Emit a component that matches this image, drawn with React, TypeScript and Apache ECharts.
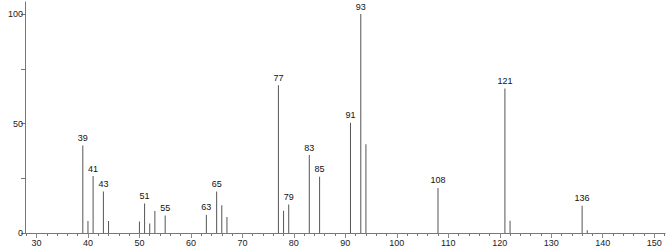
import React, { useEffect, useRef } from "react";
import * as echarts from "echarts";

const mz = [39, 40, 41, 43, 44, 50, 51, 52, 53, 55, 63, 65, 66, 67, 77, 78, 79, 83, 85, 91, 93, 94, 108, 121, 122, 136, 137];
const intensity = [40, 5.5, 26, 19, 5.5, 5.3, 13.5, 4.3, 10, 8, 8.3, 19, 12.7, 7.3, 67.5, 10.2, 13, 35.6, 25.7, 50.4, 100, 40.5, 20.6, 66, 5.6, 12.5, 1.2];
const labeledPeaks = [39, 41, 43, 51, 55, 63, 65, 77, 79, 83, 85, 91, 93, 108, 121, 136];
const xMajorTicks = [30, 40, 50, 60, 70, 80, 90, 100, 110, 120, 130, 140, 150];
const xMinorTicks = [28, 30, 32, 34, 36, 38, 40, 42, 44, 46, 48, 50, 52, 54, 56, 58, 60, 62, 64, 66, 68, 70, 72, 74, 76, 78, 80, 82, 84, 86, 88, 90, 92, 94, 96, 98, 100, 102, 104, 106, 108, 110, 112, 114, 116, 118, 120, 122, 124, 126, 128, 130, 132, 134, 136, 138, 140, 142, 144, 146, 148, 150, 152];
const yTicks = [0, 25, 50, 75, 100];
const yLabels = [0, 50, 100];

const FONT = "'Liberation Sans', Arial, sans-serif";

export default function App() {
  const ref = useRef<HTMLDivElement>(null);
  useEffect(() => {
    if (!ref.current) return;
    const chart = echarts.init(ref.current, null, { renderer: "svg" });
    const data = mz.map((m, i) => ({
      value: [m, intensity[i]],
      label: { show: labeledPeaks.includes(m) },
    }));
    chart.setOption({
      animation: false,
      grid: { left: 25, right: 2, top: 2, bottom: 16 },
      xAxis: [
        {
          type: "value",
          min: 27.77,
          max: 152.1,
          position: "bottom",
          axisLine: { show: true, onZero: false, lineStyle: { color: "#777", width: 1 } },
          axisTick: { show: true, inside: false, length: 3, customValues: xMinorTicks, lineStyle: { color: "#777" } },
          axisLabel: { show: false },
          splitLine: { show: false },
        },
        {
          type: "value",
          min: 27.77,
          max: 152.1,
          position: "bottom",
          offset: 0,
          axisLine: { show: false },
          axisTick: { show: true, inside: false, length: 5, customValues: xMajorTicks, lineStyle: { color: "#888" } },
          axisLabel: {
            show: true,
            customValues: xMajorTicks,
            fontSize: 9,
            fontFamily: FONT,
            color: "#222",
            margin: 5,
          },
          splitLine: { show: false },
        },
      ],
      yAxis: {
        type: "value",
        min: 0,
        max: 105.5,
        axisLine: { show: true, lineStyle: { color: "#777", width: 1 } },
        axisTick: { show: true, length: 4, customValues: yTicks, lineStyle: { color: "#777" } },
        axisLabel: {
          show: true,
          customValues: yLabels,
          fontSize: 9,
          fontFamily: FONT,
          color: "#222",
          margin: 2,
        },
        splitLine: { show: false },
      },
      series: [
        {
          type: "bar",
          xAxisIndex: 0,
          barWidth: 1,
          data,
          itemStyle: { color: "#555" },
          label: {
            show: false,
            position: "top",
            distance: 3,
            fontSize: 9,
            fontFamily: FONT,
            color: "#111",
            formatter: (p: any) => String(p.value[0]),
          },
        },
      ],
    });
    return () => chart.dispose();
  }, []);
  return <div ref={ref} style={{ width: 667, height: 249, position: "absolute", left: 0, top: 0 }} />;
}
